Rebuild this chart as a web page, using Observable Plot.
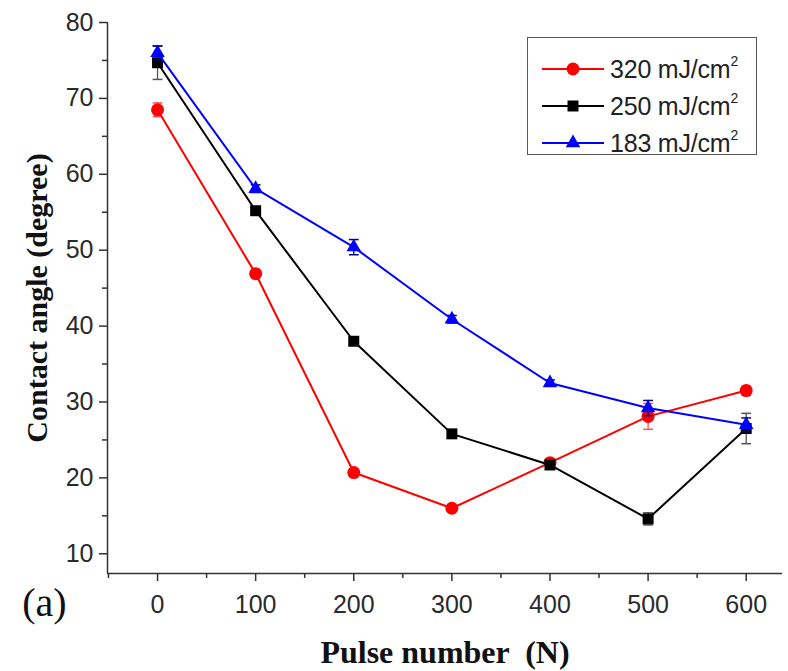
<!DOCTYPE html>
<html>
<head>
<meta charset="utf-8">
<script src="https://cdn.jsdelivr.net/npm/d3@7"></script>
<script src="https://cdn.jsdelivr.net/npm/@observablehq/plot@0.6"></script>
<style>
  html, body { margin: 0; padding: 0; background: white; }
  #wrap { position: relative; width: 788px; height: 671px; }
  #legend { position: absolute; left: 527px; top: 37px; width: 228px; height: 116px;
            border: 1.5px solid #555; background: white; font-family: "Liberation Sans", Arial, sans-serif; }
  .row { position: absolute; left: 0; height: 30px; display: flex; align-items: center; }
  .row svg { display: block; }
  .lab { font-size: 25px; color: #222; margin-left: 4px; white-space: nowrap; letter-spacing: -0.2px; }
  .lab sup { font-size: 14px; vertical-align: 12px; line-height: 0; }
</style>
</head>
<body>
<div id="wrap"></div>
<script>
// ---- data ----
const pulses = [0, 100, 200, 300, 400, 500, 600];
const seriesNames = ["320 mJ/cm", "250 mJ/cm", "183 mJ/cm"];
const seriesColors = ["#ff0000", "#000000", "#0000ff"];
const seriesErrColors = ["#ff5050", "#555555", "#000080"];
const seriesSymbols = ["circle", "square", "triangle"];
const angle320 = [68.5, 46.9, 20.7, 16.0, 22.0, 28.1, 31.5];
const err320   = [0.9, 0.4, 0.4, 0.3, 0.5, 1.7, 0.6];
const angle250 = [74.7, 55.2, 38.0, 25.8, 21.7, 14.6, 26.5];
const err250   = [2.2, 0.5, 0.4, 0.4, 0.5, 0.8, 2.0];
const angle183 = [76.0, 58.1, 50.4, 40.9, 32.5, 29.2, 27.0];
const err183   = [0.9, 0.5, 1.0, 0.5, 0.4, 1.0, 0.9];
const xTicks = [0, 100, 200, 300, 400, 500, 600];
const xMinor = [-50, 50, 150, 250, 350, 450, 550, 650];
const yTicks = [10, 20, 30, 40, 50, 60, 70, 80];
const yMinor = [15, 25, 35, 45, 55, 65, 75];
const xDomain = [-51, 637];
const yDomain = [7.4, 80];
const xLabel = "Pulse number  (N)";
const yLabel = "Contact angle (degree)";
const panelLabel = "(a)";

const values = [angle320, angle250, angle183];
const errs = [err320, err250, err183];
const series = values.map((vals, s) => pulses.map((p, i) => ({
  x: p, y: vals[i], e: errs[s][i], s
})));

const marks = [];
series.forEach((data, s) => {
  marks.push(Plot.ruleX(data, {x: "x", y1: d => d.y - d.e, y2: d => d.y + d.e, stroke: seriesErrColors[s], strokeWidth: 1.3}));
  marks.push(Plot.link(data, {x1: d => d.x - 5, x2: d => d.x + 5, y1: d => d.y + d.e, y2: d => d.y + d.e, stroke: seriesErrColors[s], strokeWidth: 1.5}));
  marks.push(Plot.link(data, {x1: d => d.x - 5, x2: d => d.x + 5, y1: d => d.y - d.e, y2: d => d.y - d.e, stroke: seriesErrColors[s], strokeWidth: 1.5}));
  marks.push(Plot.line(data, {x: "x", y: "y", stroke: seriesColors[s], strokeWidth: 2}));
  const r = s === 0 ? 6.5 : s === 1 ? 6.2 : 5.4;
  marks.push(Plot.dot(data, {x: "x", y: "y", symbol: () => seriesSymbols[s], r, fill: seriesColors[s], stroke: "none"}));
});

const serif = "'Liberation Serif', 'Times New Roman', serif";
const chart = Plot.plot({
  width: 788,
  height: 671,
  marginLeft: 107,
  marginRight: 6,
  marginTop: 22,
  marginBottom: 98,
  style: {fontFamily: "'Liberation Sans', Arial, sans-serif", color: "#2a2a2a", background: "white", overflow: "visible"},
  x: {domain: xDomain},
  y: {domain: yDomain},
  symbol: {type: "identity"},
  marks: [
    Plot.axisX({ticks: xTicks, tickSize: 8, tickPadding: 14, fontSize: 25, label: null, stroke: "#333", strokeWidth: 1.5}),
    Plot.axisX({ticks: xMinor, tickSize: 5, tickFormat: () => "", label: null, stroke: "#333", strokeWidth: 1.5}),
    Plot.axisY({ticks: yTicks, tickSize: 8, tickPadding: 6, fontSize: 25, label: null, stroke: "#333", strokeWidth: 1.5}),
    Plot.axisY({ticks: yMinor, tickSize: 5, tickFormat: () => "", label: null, stroke: "#333", strokeWidth: 1.5}),
    Plot.ruleX([xDomain[0]], {stroke: "#333", strokeWidth: 1.5}),
    Plot.ruleY([yDomain[0]], {stroke: "#333", strokeWidth: 1.5}),
    ...marks,
    Plot.text([yLabel], {frameAnchor: "left", dx: -70, rotate: -90, textAnchor: "middle", fontSize: 30, fontWeight: "bold", fontFamily: serif, fill: "#111"}),
    Plot.text([xLabel], {frameAnchor: "bottom", dy: 89, textAnchor: "middle", fontSize: 32, fontWeight: "bold", fontFamily: serif, fill: "#111"}),
    Plot.text([panelLabel], {frameAnchor: "bottom-left", dx: -63, dy: 42, textAnchor: "middle", fontSize: 40, fontFamily: serif, fill: "#111"})
  ]
});

const wrap = document.getElementById("wrap");
wrap.appendChild(chart);

// legend (HTML overlay)
const legend = document.createElement("div");
legend.id = "legend";
const rowTops = [16, 53, 90];
seriesNames.forEach((name, s) => {
  const row = document.createElement("div");
  row.className = "row";
  row.style.top = rowTops[s] + "px";
  const w = 64, h = 30;
  const svg = d3.create("svg").attr("width", w + 14).attr("height", h);
  svg.append("line").attr("x1", 14).attr("x2", 14 + w - 2).attr("y1", h / 2).attr("y2", h / 2)
     .attr("stroke", seriesColors[s]).attr("stroke-width", 2);
  const sym = s === 0 ? d3.symbolCircle : s === 1 ? d3.symbolSquare : d3.symbolTriangle;
  const r = s === 0 ? 6.5 : s === 1 ? 6.2 : 5.4;
  svg.append("path").attr("d", d3.symbol(sym, Math.PI * r * r)())
     .attr("transform", `translate(${14 + w / 2 - 1},${h / 2})`).attr("fill", seriesColors[s]);
  row.appendChild(svg.node());
  const lab = document.createElement("span");
  lab.className = "lab";
  lab.innerHTML = name + "<sup>2</sup>";
  row.appendChild(lab);
  legend.appendChild(row);
});
wrap.appendChild(legend);
</script>
</body>
</html>
